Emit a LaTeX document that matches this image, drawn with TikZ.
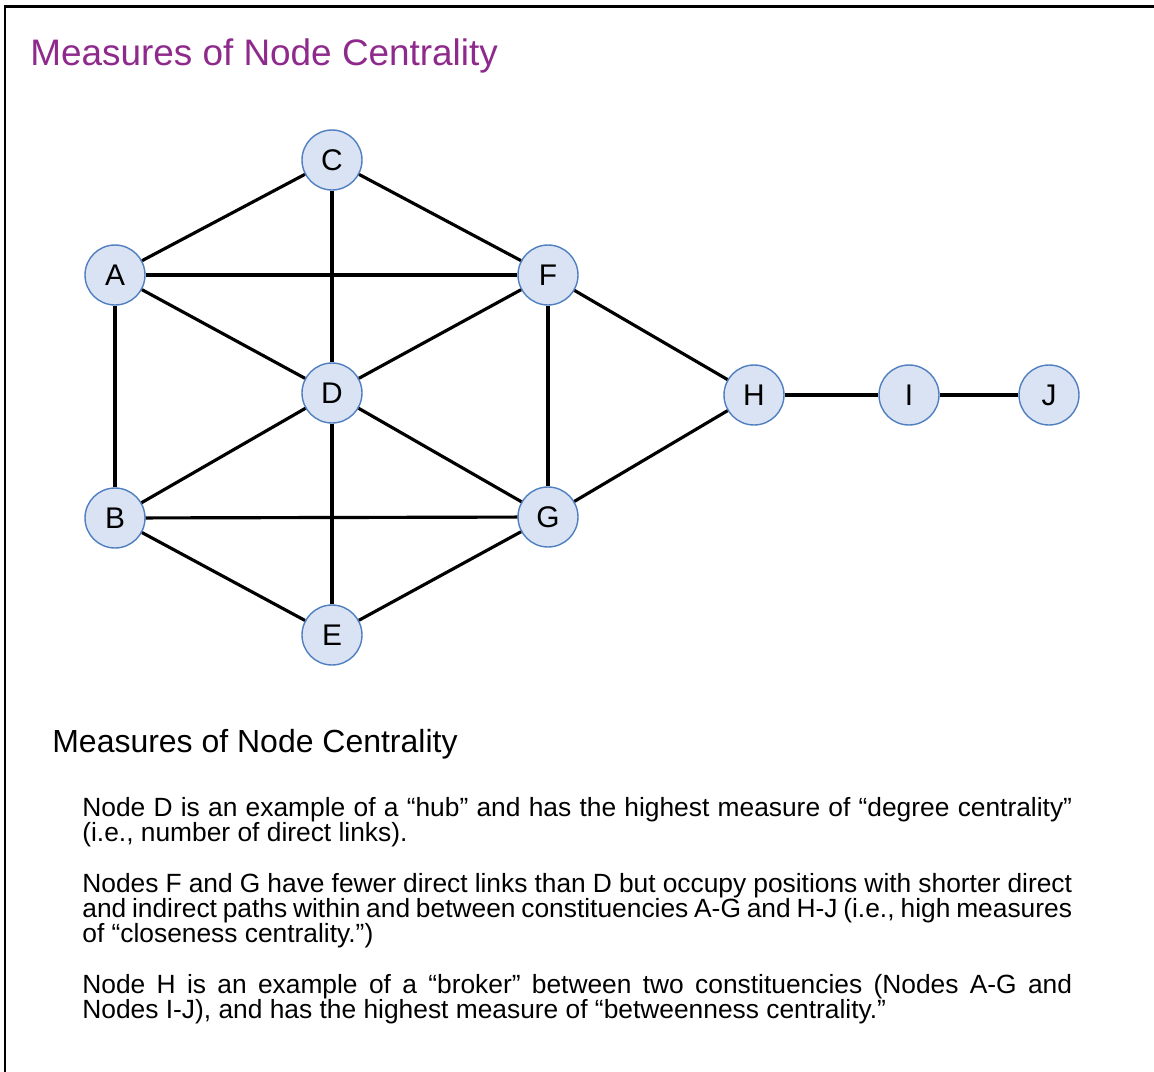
\documentclass[tikz,border=0pt]{standalone}
\usepackage{fontspec}
\setmainfont{Liberation Sans}
\usepackage{tikz}
\usetikzlibrary{positioning}
\definecolor{titlec}{HTML}{8E2A8C}
\definecolor{nodefill}{HTML}{DAE3F3}
\definecolor{nodeline}{HTML}{4F7FC0}
\tikzset{
  vtx/.style={circle,draw=nodeline,line width=0.8pt,fill=nodefill,minimum size=1.2cm,inner sep=0pt,font=\fontsize{17}{20}\selectfont},
  link/.style={line width=1.8pt,draw=black},
  frame/.style={line width=1.4pt,draw=black},
  ttl/.style={anchor=base west,inner sep=0pt,text=titlec,font=\fontsize{21}{25}\selectfont},
  sub/.style={anchor=base west,inner sep=0pt,font=\fontsize{18.2}{22}\selectfont},
  body/.style={anchor=north west,inner sep=0pt,text width=19.8cm,align=justify,font=\fontsize{15}{14.2}\selectfont},
}
\begin{document}
\begin{tikzpicture}[x=0.02cm,y=-0.02cm]
  \useasboundingbox (0,0) rectangle (1154,1072);
  \draw[frame] (5,1080) -- (5,6.5) -- (1160,6.5);
  \node[ttl] (title) at (30,65) {Measures of Node Centrality};
  \node[vtx] (C) at (332,160) {C};
  \node[vtx] (A) at (115,275) {A};
  \node[vtx] (F) at (548,275) {F};
  \node[vtx] (D) at (332,393) {D};
  \node[vtx] (H) at (754,395) {H};
  \node[vtx] (I) at (909,395) {I};
  \node[vtx] (J) at (1049,395) {J};
  \node[vtx] (B) at (115,518) {B};
  \node[vtx] (G) at (548,517) {G};
  \node[vtx] (E) at (332,635) {E};
  \foreach \a/\b in {A/C,C/F,C/D,A/F,A/D,A/B,D/F,D/B,D/G,D/E,F/G,F/H,G/H,B/G,B/E,E/G,H/I,I/J}
    \draw[link] (\a) -- (\b);
  \node[sub] (subtitle) at (52,752) {Measures of Node Centrality};
  \node[body] (notes) at (82,797) {\hyphenpenalty=10000\exhyphenpenalty=10000\parskip=15pt
    Node D is an example of a “hub” and has the highest measure of “degree centrality”\linebreak
    (i.e., number of direct links).\par
    Nodes F and G have fewer direct links than D but occupy positions with shorter direct\linebreak
    and indirect paths within and between constituencies A-G and H-J (i.e., high measures\linebreak
    of “closeness centrality.”)\par
    Node H is an example of a “broker” between two constituencies (Nodes A-G and\linebreak
    Nodes I-J), and has the highest measure of “betweenness centrality.”};
\end{tikzpicture}
\end{document}
